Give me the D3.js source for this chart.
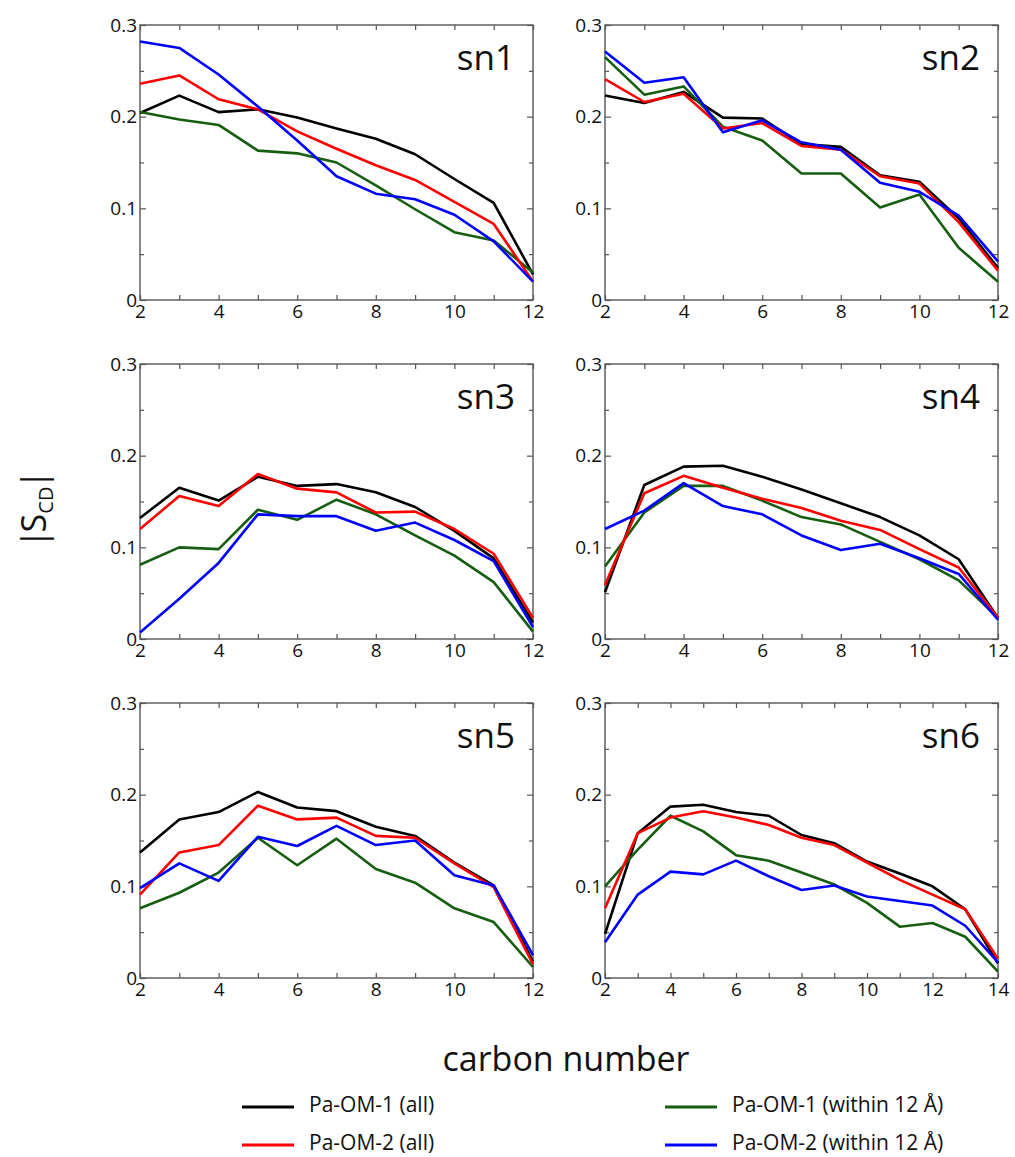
<!DOCTYPE html>
<html>
<head>
<meta charset="utf-8">
<script src="https://cdn.jsdelivr.net/npm/d3@7"></script>
<style>
  body { margin: 0; background: #fff; }
  text { font-family: "Open Sans", "Noto Sans", sans-serif; fill: #111; }
</style>
</head>
<body>
<div id="chart"></div>
<script>
// carbon positions along the chains
var carbons12 = [2, 3, 4, 5, 6, 7, 8, 9, 10, 11, 12];
var carbons14 = [2, 3, 4, 5, 6, 7, 8, 9, 10, 11, 12, 13, 14];

var seriesNames = ["Pa-OM-1 (all)", "Pa-OM-2 (all)", "Pa-OM-1 (within 12 Å)", "Pa-OM-2 (within 12 Å)"];
var seriesColors = ["#000000", "#ff0000", "#155e0f", "#0000ff"];

// |S_CD| values, one array per chain and system
var sn1_om1 = [0.204, 0.223, 0.205, 0.208, 0.199, 0.187, 0.176, 0.159, 0.132, 0.106, 0.028];
var sn1_om2 = [0.236, 0.245, 0.219, 0.208, 0.184, 0.165, 0.147, 0.131, 0.107, 0.083, 0.020];
var sn1_om1w = [0.205, 0.197, 0.191, 0.163, 0.160, 0.150, 0.125, 0.099, 0.074, 0.065, 0.030];
var sn1_om2w = [0.282, 0.275, 0.246, 0.211, 0.174, 0.135, 0.116, 0.110, 0.093, 0.064, 0.020];

var sn2_om1 = [0.223, 0.215, 0.227, 0.199, 0.198, 0.170, 0.167, 0.136, 0.129, 0.089, 0.035];
var sn2_om2 = [0.241, 0.216, 0.225, 0.187, 0.193, 0.168, 0.164, 0.135, 0.127, 0.085, 0.032];
var sn2_om1w = [0.265, 0.224, 0.233, 0.189, 0.174, 0.138, 0.138, 0.101, 0.115, 0.057, 0.020];
var sn2_om2w = [0.271, 0.237, 0.243, 0.183, 0.196, 0.172, 0.164, 0.128, 0.118, 0.092, 0.042];

var sn3_om1 = [0.132, 0.165, 0.151, 0.177, 0.167, 0.169, 0.160, 0.144, 0.118, 0.088, 0.018];
var sn3_om2 = [0.120, 0.156, 0.145, 0.180, 0.164, 0.160, 0.138, 0.139, 0.120, 0.093, 0.023];
var sn3_om1w = [0.081, 0.100, 0.098, 0.141, 0.130, 0.152, 0.136, 0.113, 0.091, 0.062, 0.008];
var sn3_om2w = [0.007, 0.044, 0.083, 0.136, 0.134, 0.134, 0.118, 0.127, 0.108, 0.085, 0.013];

var sn4_om1 = [0.051, 0.168, 0.188, 0.189, 0.177, 0.163, 0.148, 0.133, 0.113, 0.087, 0.023];
var sn4_om2 = [0.059, 0.159, 0.178, 0.165, 0.153, 0.143, 0.129, 0.119, 0.098, 0.078, 0.023];
var sn4_om1w = [0.079, 0.138, 0.167, 0.167, 0.151, 0.133, 0.125, 0.106, 0.087, 0.064, 0.023];
var sn4_om2w = [0.120, 0.140, 0.170, 0.145, 0.136, 0.113, 0.097, 0.104, 0.088, 0.071, 0.021];

var sn5_om1 = [0.137, 0.173, 0.181, 0.203, 0.186, 0.182, 0.165, 0.155, 0.126, 0.101, 0.018];
var sn5_om2 = [0.091, 0.137, 0.145, 0.188, 0.173, 0.175, 0.155, 0.153, 0.125, 0.099, 0.015];
var sn5_om1w = [0.076, 0.093, 0.115, 0.153, 0.123, 0.152, 0.119, 0.104, 0.076, 0.061, 0.012];
var sn5_om2w = [0.098, 0.125, 0.106, 0.154, 0.144, 0.166, 0.145, 0.150, 0.112, 0.101, 0.025];

var sn6_om1 = [0.048, 0.158, 0.187, 0.189, 0.181, 0.177, 0.156, 0.147, 0.127, 0.114, 0.100, 0.075, 0.016];
var sn6_om2 = [0.076, 0.158, 0.175, 0.182, 0.175, 0.167, 0.153, 0.145, 0.126, 0.107, 0.091, 0.075, 0.021];
var sn6_om1w = [0.100, 0.140, 0.177, 0.160, 0.134, 0.128, 0.115, 0.102, 0.082, 0.056, 0.060, 0.045, 0.007];
var sn6_om2w = [0.039, 0.091, 0.116, 0.113, 0.128, 0.111, 0.096, 0.101, 0.089, 0.084, 0.079, 0.057, 0.017];

var yMajor = [0, 0.1, 0.2, 0.3];
var yMinor = [0.05, 0.15, 0.25];

var panels = [
  {name: "sn1", x: carbons12, series: [sn1_om1, sn1_om2, sn1_om1w, sn1_om2w]},
  {name: "sn2", x: carbons12, series: [sn2_om1, sn2_om2, sn2_om1w, sn2_om2w]},
  {name: "sn3", x: carbons12, series: [sn3_om1, sn3_om2, sn3_om1w, sn3_om2w]},
  {name: "sn4", x: carbons12, series: [sn4_om1, sn4_om2, sn4_om1w, sn4_om2w]},
  {name: "sn5", x: carbons12, series: [sn5_om1, sn5_om2, sn5_om1w, sn5_om2w]},
  {name: "sn6", x: carbons14, series: [sn6_om1, sn6_om2, sn6_om1w, sn6_om2w]}
];

// layout
var width = 1015, height = 1157;
var colLeft = [140, 605], rowTop = [25, 364, 703];
var pw = 393, ph = 275;
var drawOrder = [0, 2, 1, 3];

var svg = d3.select("#chart")
  .append("svg")
    .attr("width", width)
    .attr("height", height);

panels.forEach(function(p, i) {
  var g = svg.append("g")
    .attr("transform", "translate(" + colLeft[i % 2] + "," + rowTop[Math.floor(i / 2)] + ")");

  var x = d3.scaleLinear().domain([p.x[0], p.x[p.x.length - 1]]).range([0, pw]);
  var y = d3.scaleLinear().domain([0, 0.3]).range([ph, 0]);

  // ticks point inwards, labels only on the even carbons
  g.append("g")
    .attr("class", "axis")
    .attr("transform", "translate(0," + ph + ")")
    .call(d3.axisBottom(x).tickValues(p.x).tickSizeInner(-5).tickSizeOuter(0).tickPadding(4)
      .tickFormat(function(d) { return d % 2 === 0 ? d : ""; }));
  g.append("g")
    .attr("class", "axis")
    .call(d3.axisTop(x).tickValues(p.x).tickSizeInner(-5).tickSizeOuter(0).tickFormat(""));

  g.append("g")
    .attr("class", "axis")
    .call(d3.axisLeft(y).tickValues(yMajor).tickSizeInner(-6).tickSizeOuter(0).tickPadding(3)
      .tickFormat(function(d) { return d === 0 ? "0" : d.toFixed(1); }));
  g.append("g")
    .attr("class", "axis")
    .call(d3.axisLeft(y).tickValues(yMinor).tickSizeInner(-4).tickSizeOuter(0).tickFormat(""));
  g.append("g")
    .attr("class", "axis")
    .attr("transform", "translate(" + pw + ",0)")
    .call(d3.axisRight(y).tickValues(yMajor).tickSizeInner(-6).tickSizeOuter(0).tickFormat(""));
  g.append("g")
    .attr("class", "axis")
    .attr("transform", "translate(" + pw + ",0)")
    .call(d3.axisRight(y).tickValues(yMinor).tickSizeInner(-4).tickSizeOuter(0).tickFormat(""));

  g.selectAll(".axis .domain").remove();
  g.selectAll(".axis line").attr("stroke", "#555").attr("stroke-width", 1.2);
  g.selectAll(".axis text")
    .style("font-family", "'Open Sans', sans-serif")
    .style("font-size", "19px")
    .attr("fill", "#111");

  g.append("rect")
    .attr("width", pw)
    .attr("height", ph)
    .attr("fill", "none")
    .attr("stroke", "#555")
    .attr("stroke-width", 1.4);

  var line = d3.line()
    .x(function(d, j) { return x(p.x[j]); })
    .y(function(d) { return y(d); });

  drawOrder.forEach(function(s) {
    g.append("path")
      .datum(p.series[s])
      .attr("d", line)
      .attr("fill", "none")
      .attr("stroke", seriesColors[s])
      .attr("stroke-width", 2.6)
      .attr("stroke-linejoin", "round");
  });

  g.append("text")
    .attr("x", pw - 18)
    .attr("y", 45)
    .attr("text-anchor", "end")
    .style("font-size", "35px")
    .text(p.name);
});

// y axis title |S_CD|
var yTitle = svg.append("text")
  .attr("transform", "translate(46,509) rotate(-90)")
  .attr("text-anchor", "middle")
  .style("font-size", "34px");
yTitle.append("tspan").text("|");
yTitle.append("tspan").attr("dx", -3).text("S");
yTitle.append("tspan").attr("dy", 7).style("font-size", "20px").text("CD");
yTitle.append("tspan").attr("dy", -7).attr("dx", -2).text("|");

svg.append("text")
  .attr("x", 566)
  .attr("y", 1071)
  .attr("text-anchor", "middle")
  .style("font-size", "34px")
  .text("carbon number");

// legend, two columns
var legendX = [242, 665], legendY = [1107, 1145];
seriesNames.forEach(function(name, i) {
  var lx = legendX[Math.floor(i / 2)], ly = legendY[i % 2];
  svg.append("line")
    .attr("x1", lx).attr("x2", lx + 52)
    .attr("y1", ly).attr("y2", ly)
    .attr("stroke", seriesColors[i])
    .attr("stroke-width", 3);
  svg.append("text")
    .attr("x", lx + 67)
    .attr("y", ly + 5)
    .style("font-size", "21px")
    .text(name);
});
</script>
</body>
</html>
